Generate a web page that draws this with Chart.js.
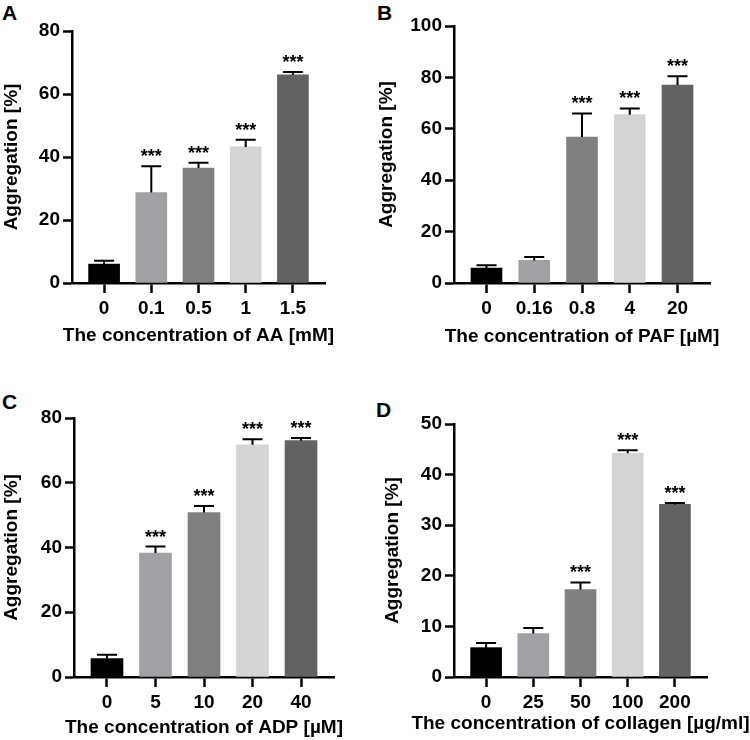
<!DOCTYPE html>
<html>
<head>
<meta charset="utf-8">
<script src="https://cdn.jsdelivr.net/npm/chart.js@4"></script>
<style>
  body { margin: 0; background: #fff; }
  #wrap { position: relative; width: 750px; height: 740px; overflow: hidden; }
  #wrap canvas { position: absolute; }
  .letra { position: absolute; font: bold 21px 'Liberation Sans', Arial, sans-serif; line-height: 21px; color: #000; }
</style>
</head>
<body>
<div id="wrap">
  <div class="letra" style="left:2px;top:2px">A</div>
  <div class="letra" style="left:377px;top:2px">B</div>
  <div class="letra" style="left:2px;top:391px">C</div>
  <div class="letra" style="left:376px;top:399px">D</div>
  <canvas id="chartA"></canvas>
  <canvas id="chartB"></canvas>
  <canvas id="chartC"></canvas>
  <canvas id="chartD"></canvas>
</div>
<script>
// datos (media y error superior)
const aaLabels  = ['0', '0.1', '0.5', '1', '1.5'];
const aaMeans   = [6.0, 28.7, 36.5, 43.2, 66.1];
const aaErrors  = [1.1, 8.4, 1.7, 2.3, 0.9];
const aaStars   = ['', '***', '***', '***', '***'];
const aaTicks   = [0, 20, 40, 60, 80];

const pafLabels = ['0', '0.16', '0.8', '4', '20'];
const pafMeans  = [5.8, 8.8, 56.8, 65.5, 77.0];
const pafErrors = [1.1, 1.3, 9.2, 2.4, 3.4];
const pafStars  = ['', '', '***', '***', '***'];
const pafTicks  = [0, 20, 40, 60, 80, 100];

const adpLabels = ['0', '5', '10', '20', '40'];
const adpMeans  = [5.7, 38.3, 50.8, 71.7, 73.0];
const adpErrors = [1.2, 2.0, 2.0, 1.7, 0.8];
const adpStars  = ['', '***', '***', '***', '***'];
const adpTicks  = [0, 20, 40, 60, 80];

const colLabels = ['0', '25', '50', '100', '200'];
const colMeans  = [5.8, 8.6, 17.3, 44.2, 34.1];
const colErrors = [0.9, 1.1, 1.4, 0.6, 0.3];
const colStars  = ['', '', '***', '***', '***'];
const colTicks  = [0, 10, 20, 30, 40, 50];

const BAR_COLORS = ['#000000', '#a1a1a5', '#808080', '#d4d4d4', '#626262'];
const FAMILY     = "'Liberation Sans', Arial, sans-serif";

// error superior, asteriscos y titulo del eje x (sin recorte por ancho)
const barrasError = {
  id: 'barrasError',
  afterDatasetsDraw(chart, args, opts) {
    const ctx  = chart.ctx;
    const ds   = chart.data.datasets[0];
    const meta = chart.getDatasetMeta(0);
    const yS   = chart.scales.y;
    const area = chart.chartArea;

    ctx.save();
    ctx.strokeStyle = '#000';
    ctx.lineWidth   = 2;
    ctx.fillStyle   = '#000';
    ctx.font        = 'bold 18px ' + FAMILY;
    ctx.textAlign   = 'center';
    ctx.textBaseline = 'alphabetic';

    meta.data.forEach((bar, i) => {
      const top = yS.getPixelForValue(ds.data[i].y + ds.errors[i]);
      ctx.beginPath();
      ctx.moveTo(bar.x, bar.y);
      ctx.lineTo(bar.x, top);
      ctx.moveTo(bar.x - 10, top);
      ctx.lineTo(bar.x + 10, top);
      ctx.stroke();
      if (ds.stars[i]) ctx.fillText(ds.stars[i], bar.x, top - 4);
    });

    ctx.font = 'bold 19px ' + FAMILY;
    ctx.textBaseline = 'middle';
    ctx.fillText(opts.text, (area.left + area.right) / 2, area.bottom + opts.offset);
    ctx.restore();
  }
};

function crearPanel(id, box, labels, means, errors, stars, ticks, xTitle) {
  const canvas = document.getElementById(id);
  canvas.width  = box.w;
  canvas.height = box.h;
  canvas.style.left = box.x + 'px';
  canvas.style.top  = box.y + 'px';

  const yWidth  = box.left - box.x;
  const xHeight = box.xh;

  return new Chart(canvas, {
    type: 'bar',
    data: {
      datasets: [{
        data: means.map((v, i) => ({ x: i, y: v })),
        errors,
        stars,
        backgroundColor: BAR_COLORS,
        borderWidth: 0,
        barThickness: box.bw
      }]
    },
    options: {
      responsive: false,
      animation: false,
      layout: {
        padding: {
          left: 0,
          top: box.top - box.y,
          right: box.x + box.w - box.right,
          bottom: box.y + box.h - (box.bottom + xHeight)
        }
      },
      plugins: {
        legend: { display: false },
        tooltip: { enabled: false },
        barrasError: { text: xTitle, offset: box.tOff }
      },
      scales: {
        x: {
          type: 'linear',
          offset: false,
          min: -0.68,
          max: 4.68,
          afterBuildTicks: s => { s.ticks = labels.map((l, i) => ({ value: i })); },
          afterFit: s => { s.height = xHeight; },
          border: { color: '#000', width: 2.5 },
          grid: { display: true, offset: false, drawOnChartArea: false, drawTicks: true, tickLength: 10, tickWidth: 2.5, tickColor: '#000' },
          ticks: {
            autoSkip: false,
            maxRotation: 0,
            padding: 4,
            color: '#000',
            font: { family: FAMILY, size: 19, weight: 'bold' },
            callback: v => labels[v]
          }
        },
        y: {
          min: ticks[0],
          max: ticks[ticks.length - 1],
          afterFit: s => { s.width = yWidth; },
          border: { color: '#000', width: 2.5 },
          grid: { display: true, drawOnChartArea: false, drawTicks: true, tickLength: 9, tickWidth: 2.5, tickColor: '#000' },
          ticks: {
            stepSize: ticks[1] - ticks[0],
            padding: 3,
            color: '#000',
            font: { family: FAMILY, size: 19, weight: 'bold' }
          },
          title: {
            display: true,
            text: 'Aggregation [%]',
            color: '#000',
            padding: 0,
            font: { family: FAMILY, size: 19, weight: 'bold' }
          }
        }
      }
    },
    plugins: [barrasError]
  });
}

crearPanel('chartA', { x: 0,   y: 0,   w: 375, h: 370, left: 72,  top: 31,  right: 325, bottom: 283, xh: 64, bw: 31, tOff: 52.5 },
  aaLabels, aaMeans, aaErrors, aaStars, aaTicks, 'The concentration of AA [mM]');
crearPanel('chartB', { x: 375, y: 0,   w: 375, h: 370, left: 454, top: 26,  right: 710, bottom: 283, xh: 65, bw: 31, tOff: 53.5 },
  pafLabels, pafMeans, pafErrors, pafStars, pafTicks, 'The concentration of PAF [µM]');
crearPanel('chartC', { x: 0,   y: 370, w: 375, h: 370, left: 74,  top: 418, right: 334, bottom: 677, xh: 62, bw: 32, tOff: 50.5 },
  adpLabels, adpMeans, adpErrors, adpStars, adpTicks, 'The concentration of ADP [µM]');
crearPanel('chartD', { x: 381, y: 370, w: 369, h: 370, left: 454, top: 424, right: 707, bottom: 677, xh: 58, bw: 31, tOff: 46.5 },
  colLabels, colMeans, colErrors, colStars, colTicks, 'The concentration of collagen [µg/ml]');
</script>
</body>
</html>
